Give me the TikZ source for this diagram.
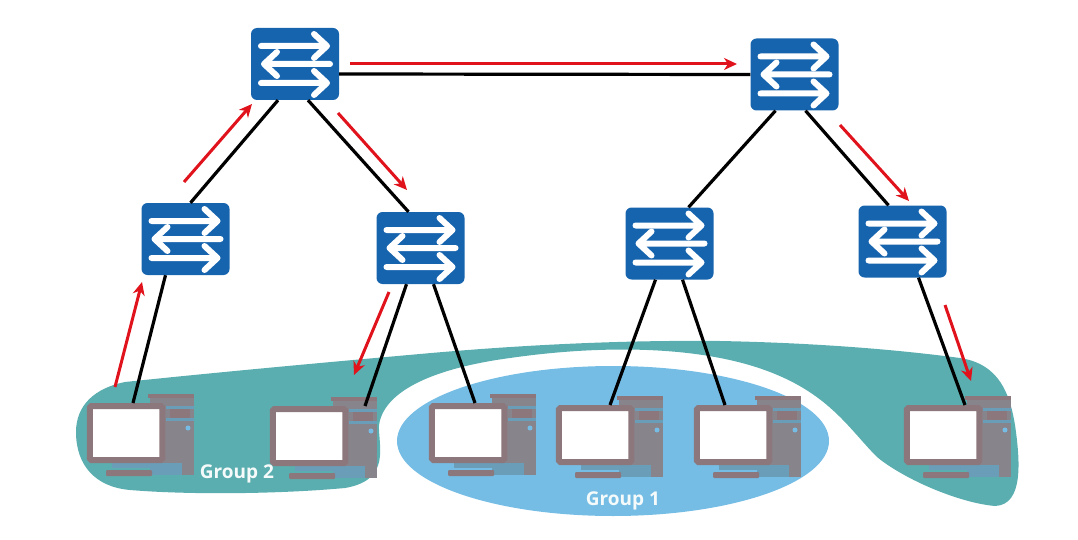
\documentclass[tikz,border=0pt]{standalone}
\usepackage{fontspec}
\setsansfont{Open Sans}
\usetikzlibrary{arrows.meta,calc,positioning}
\definecolor{switchblue}{HTML}{1764AE}
\definecolor{groupteal}{HTML}{5BAEAF}
\definecolor{groupblue}{HTML}{75BDE5}
\definecolor{pcgrey}{HTML}{8C777C}
\definecolor{towergrey}{HTML}{88848C}
\definecolor{pcstripe}{HTML}{6A9DB8}
\definecolor{linkred}{HTML}{E0121C}

\tikzset{
    switch box/.style={draw=none,fill=switchblue,rounded corners=6pt,minimum width=88pt,minimum height=72pt,inner sep=0pt},
    switch arrow/.style={draw=white,line width=6pt,line cap=round,line join=round},
    screen box/.style={draw=pcgrey,line width=6pt,fill=white,rounded corners=1.5pt,minimum width=72.5pt,minimum height=54pt,inner sep=0pt},
    link/.style={draw=black,line width=3.2pt},
    red link/.style={-{Stealth[length=13pt,width=12pt,inset=4pt]},draw=linkred,line width=3pt},
    group label/.style={font=\sffamily\bfseries\fontsize{19}{21}\selectfont,text=white!94!groupteal}
}

\begin{document}
\begin{tikzpicture}[x=1pt,y=-1pt]
    \useasboundingbox (0,0) rectangle (1078,540);

    % groups
    \fill[groupteal] (76,432) .. controls (76,405) and (95,388) .. (125,382)
        .. controls (220,372) and (330,362) .. (420,354)
        .. controls (520,345) and (620,340) .. (720,341)
        .. controls (820,343) and (900,350) .. (960,358)
        .. controls (1000,364) and (1010,395) .. (1015,425)
        .. controls (1020,460) and (1024,505) .. (995,506)
        .. controls (960,503) and (905,480) .. (877,457)
        .. controls (850,430) and (830,395) .. (770,372)
        .. controls (700,345) and (600,345) .. (510,358)
        .. controls (450,366) and (385,385) .. (379,425)
        .. controls (378,445) and (392,480) .. (345,488)
        .. controls (280,494) and (190,495) .. (130,490)
        .. controls (95,487) and (76,465) .. (76,432) -- cycle;
    \fill[groupblue] (613,441) ellipse [x radius=216,y radius=75];

    % computers
    \foreach \name/\x/\y in {pa/126/433,pb/309/436,pc/468/433,pd/595/435,pe/733/435,pf/943/435}{
        \begin{scope}[shift={(\x,\y)}]
            \fill[towergrey] (24,-39) rectangle (68,42);
            \fill[pcstripe] (40,-27) rectangle (68,-24);
            \fill[pcstripe] (40,-15) rectangle (68,-12);
            \fill[pcgrey] (44,-24) rectangle (64,-15);
            \fill[groupblue] (62,-5) circle (2.5);
            \fill[pcstripe] (24,30) rectangle (56,42);
            \fill[pcgrey] (22,-39) rectangle (68,-35);
            \fill[pcgrey,rounded corners=1pt] (-20,37) rectangle (26,43);
            \fill[pcstripe] (-14,30) rectangle (24,35);
        \end{scope}
        \node[screen box] (\name) at (\x,\y){};
    }

    % switches
    \foreach \name/\x/\y in {sa/295/64,sb/794.5/74.5,sc/185.5/239,sd/420.5/248,se/669.5/243.5,sf/902.5/241.5}{
        \node[switch box] (\name) at (\x,\y){};
        \begin{scope}[shift={(\x,\y)}]
            \draw[switch arrow] (-34,-18) -- (32,-18) (19,-30) -- (32,-18) -- (19,-6);
            \draw[switch arrow] (35,0) -- (-31,0) (-18,-12) -- (-31,0) -- (-18,12);
            \draw[switch arrow] (-34,19) -- (32,19) (19,7) -- (32,19) -- (19,31);
        \end{scope}
    }

    % links
    \draw[link] ([yshift=-10pt]sa.east) -- (sb.west);
    \draw[link] ([xshift=-17pt]sa.south) -- ([xshift=5pt]sc.north);
    \draw[link] ([xshift=13pt]sa.south) -- ([xshift=-12pt]sd.north);
    \draw[link] ([xshift=-19pt]sb.south) -- ([xshift=19pt]se.north);
    \draw[link] ([xshift=11pt]sb.south) -- ([xshift=-14pt]sf.north);
    \draw[link] ([xshift=-20pt]sc.south) -- ([xshift=7pt]pa.north);
    \draw[link] ([xshift=-14pt]sd.south) -- ([xshift=56pt]pb.north);
    \draw[link] ([xshift=13pt]sd.south) -- ([xshift=7pt]pc.north);
    \draw[link] ([xshift=-14pt]se.south) -- ([xshift=15pt]pd.north);
    \draw[link] ([xshift=13pt]se.south) -- ([xshift=-8pt]pe.north);
    \draw[link] ([xshift=16pt]sf.south) -- ([xshift=22pt]pf.north);

    % red paths
    \coordinate (ra) at (350,64);    \coordinate (rb) at (737,64);
    \coordinate (rc) at (115,387);   \coordinate (rd) at (142,282);
    \coordinate (re) at (184,182);   \coordinate (rf) at (252,104);
    \coordinate (rg) at (338,113);   \coordinate (rh) at (407,190);
    \coordinate (ri) at (389,292);   \coordinate (rj) at (354,375);
    \coordinate (rk) at (840,125);   \coordinate (rl) at (909,201);
    \coordinate (rm) at (945,305);   \coordinate (rn) at (971,381);
    \draw[red link] (ra) -- (rb);
    \draw[red link] (rc) -- (rd);
    \draw[red link] (re) -- (rf);
    \draw[red link] (rg) -- (rh);
    \draw[red link] (ri) -- (rj);
    \draw[red link] (rk) -- (rl);
    \draw[red link] (rm) -- (rn);

    \node[group label] (gb) at (237,474){Group 2};
    \node[group label] (ga) at (623,501){Group 1};
\end{tikzpicture}
\end{document}
